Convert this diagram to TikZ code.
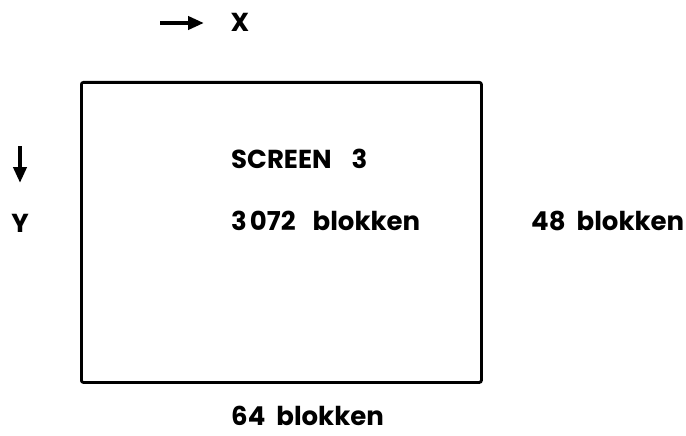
\documentclass[tikz,border=0pt]{standalone}
\usepackage{fontspec}
\setmainfont{Poppins}
\usetikzlibrary{arrows.meta}
\newcommand{\wsp}{\hspace{17pt}}
\newcommand{\nsp}{\hspace{11pt}}
\begin{document}
\begin{tikzpicture}[x=1pt,y=-1pt,
  lbl/.style={font=\fontsize{26}{29}\selectfont\bfseries, inner sep=0pt, anchor=base west},
  arr/.style={line width=4.5pt, -{Triangle[length=16pt,width=13pt]}}]
\useasboundingbox (0,0) rectangle (686,436);
\node[draw, line width=2.8pt, rounded corners=2pt, minimum width=400pt, minimum height=300pt, anchor=north west, inner sep=0pt] (screen) at (80,81) {};
\coordinate (xs) at (160,23);
\coordinate (xe) at (204,23);
\draw[arr] (xs) -- (xe);
\node[lbl, anchor=center] (xl) at (240,22) {X};
\coordinate (ys) at (20,146);
\coordinate (ye) at (20,183);
\draw[arr] (ys) -- (ye);
\node[lbl, anchor=center] (yl) at (20,223) {Y};
\node[lbl] (t1) at (231,168) {SCREEN\hspace{20pt}3};
\node[lbl] (t2) at (231,230) {3\kern3pt072\wsp blokken};
\node[lbl] (t3) at (531,230) {48\nsp blokken};
\node[lbl] (t4) at (231,425) {64\nsp blokken};
\end{tikzpicture}
\end{document}
